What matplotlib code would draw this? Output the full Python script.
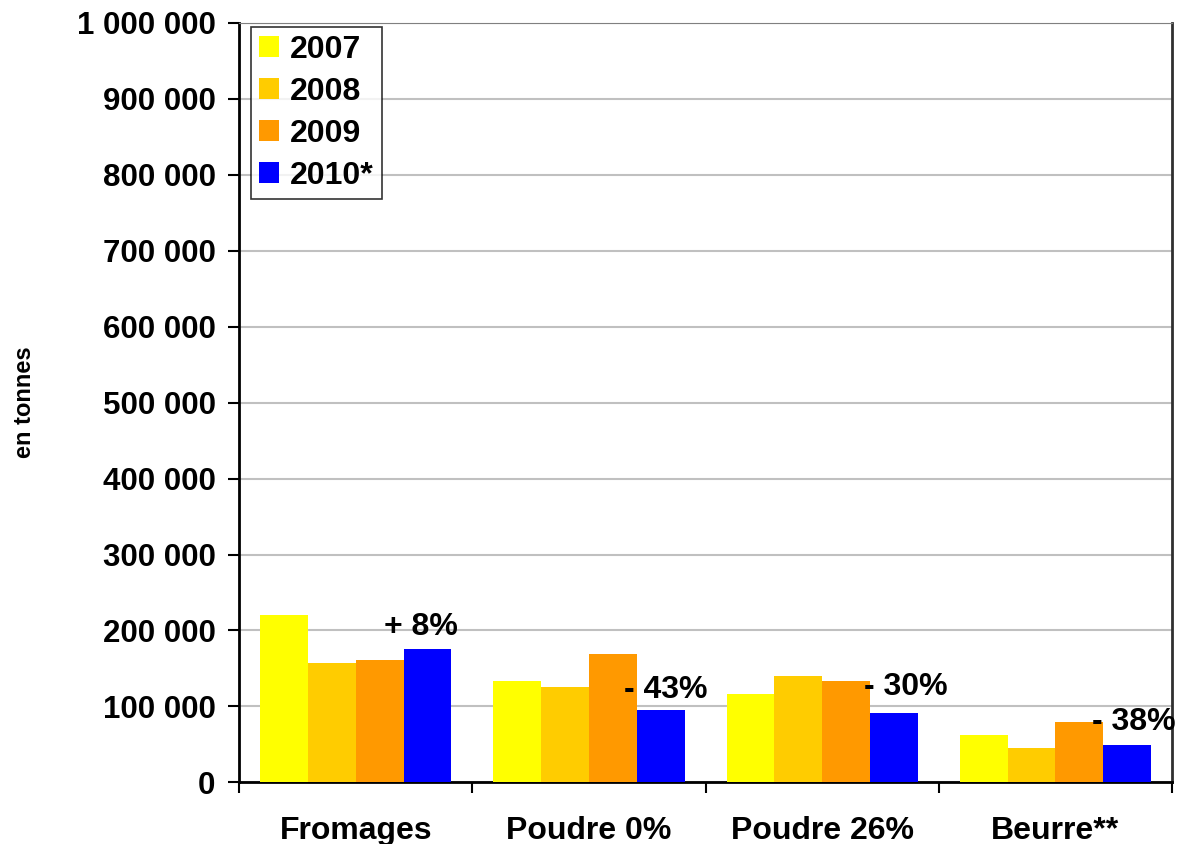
import matplotlib.pyplot as plt
import matplotlib.ticker as mticker
import numpy as np

plt.rcParams['font.family'] = ['Liberation Sans', 'DejaVu Sans']
plt.rcParams['font.weight'] = 'bold'

categories = ['Fromages', 'Poudre 0%', 'Poudre 26%', 'Beurre**']
years = ['2007', '2008', '2009', '2010*']
v2007 = [220000, 133000, 116000, 63000]
v2008 = [157000, 125000, 140000, 45000]
v2009 = [161000, 169000, 133000, 79000]
v2010 = [175000, 95000, 92000, 49000]
changes = ['+ 8%', '- 43%', '- 30%', '- 38%']
colors = ['#FFFF00', '#FFCC00', '#FF9900', '#0000FF']

# where the variation labels sit (data units)
label_dx = [-0.03, 0.02, 0.05, 0.03]
label_y = [205000, 121000, 126000, 80000]

series = [v2007, v2008, v2009, v2010]

fig = plt.figure(figsize=(11.78, 8.44), dpi=100)
ax = fig.add_axes([0.203, 0.073, 0.792, 0.9])

x = np.arange(len(categories))
w = 0.205
for i, vals in enumerate(series):
    ax.bar(x + (i - 1.5) * w, vals, width=w, color=colors[i], label=years[i], zorder=3)

# variation 2010 / 2009
for j, txt in enumerate(changes):
    ax.text(x[j] + 1.5 * w + label_dx[j], label_y[j], txt, ha='center', va='center',
            fontsize=23, fontweight='bold', zorder=4)

ax.set_xlim(-0.5, len(categories) - 0.5)
ax.set_ylim(0, 1000000)
ax.yaxis.set_major_locator(mticker.MultipleLocator(100000))
ax.yaxis.set_major_formatter(mticker.FuncFormatter(lambda v, p: f'{int(v):,}'.replace(',', ' ')))
ax.grid(axis='y', color='#c0c0c0', linewidth=1.5, zorder=0)

ax.set_xticks(x)
ax.set_xticklabels(categories, fontsize=23, fontweight='bold')
ax.tick_params(axis='x', length=0, pad=24)
ax.set_xticks(np.arange(-0.5, len(categories)), minor=True)
ax.tick_params(axis='x', which='minor', length=8, width=1.5, direction='out')
ax.tick_params(axis='y', labelsize=22.5, length=8, width=1.5, direction='out', pad=9)
for lbl in ax.get_yticklabels():
    lbl.set_fontweight('bold')

for s in ['left', 'bottom']:
    ax.spines[s].set_linewidth(2)
ax.spines['top'].set_color('#808080')
ax.spines['right'].set_color('#303030')
ax.spines['right'].set_linewidth(2)

ax.set_ylabel('en tonnes', fontsize=17, fontweight='bold')
ax.yaxis.set_label_coords(-0.218, 0.5)

leg = ax.legend(loc='upper left', bbox_to_anchor=(0.013, 0.995), fontsize=23, frameon=True,
                fancybox=False, edgecolor='black', handlelength=0.62, handleheight=0.62,
                handletextpad=0.35, labelspacing=0.38, borderpad=0.25, borderaxespad=0)
leg.get_frame().set_linewidth(1.2)
for t in leg.get_texts():
    t.set_fontweight('bold')

fig.savefig('out.png', dpi=100)
